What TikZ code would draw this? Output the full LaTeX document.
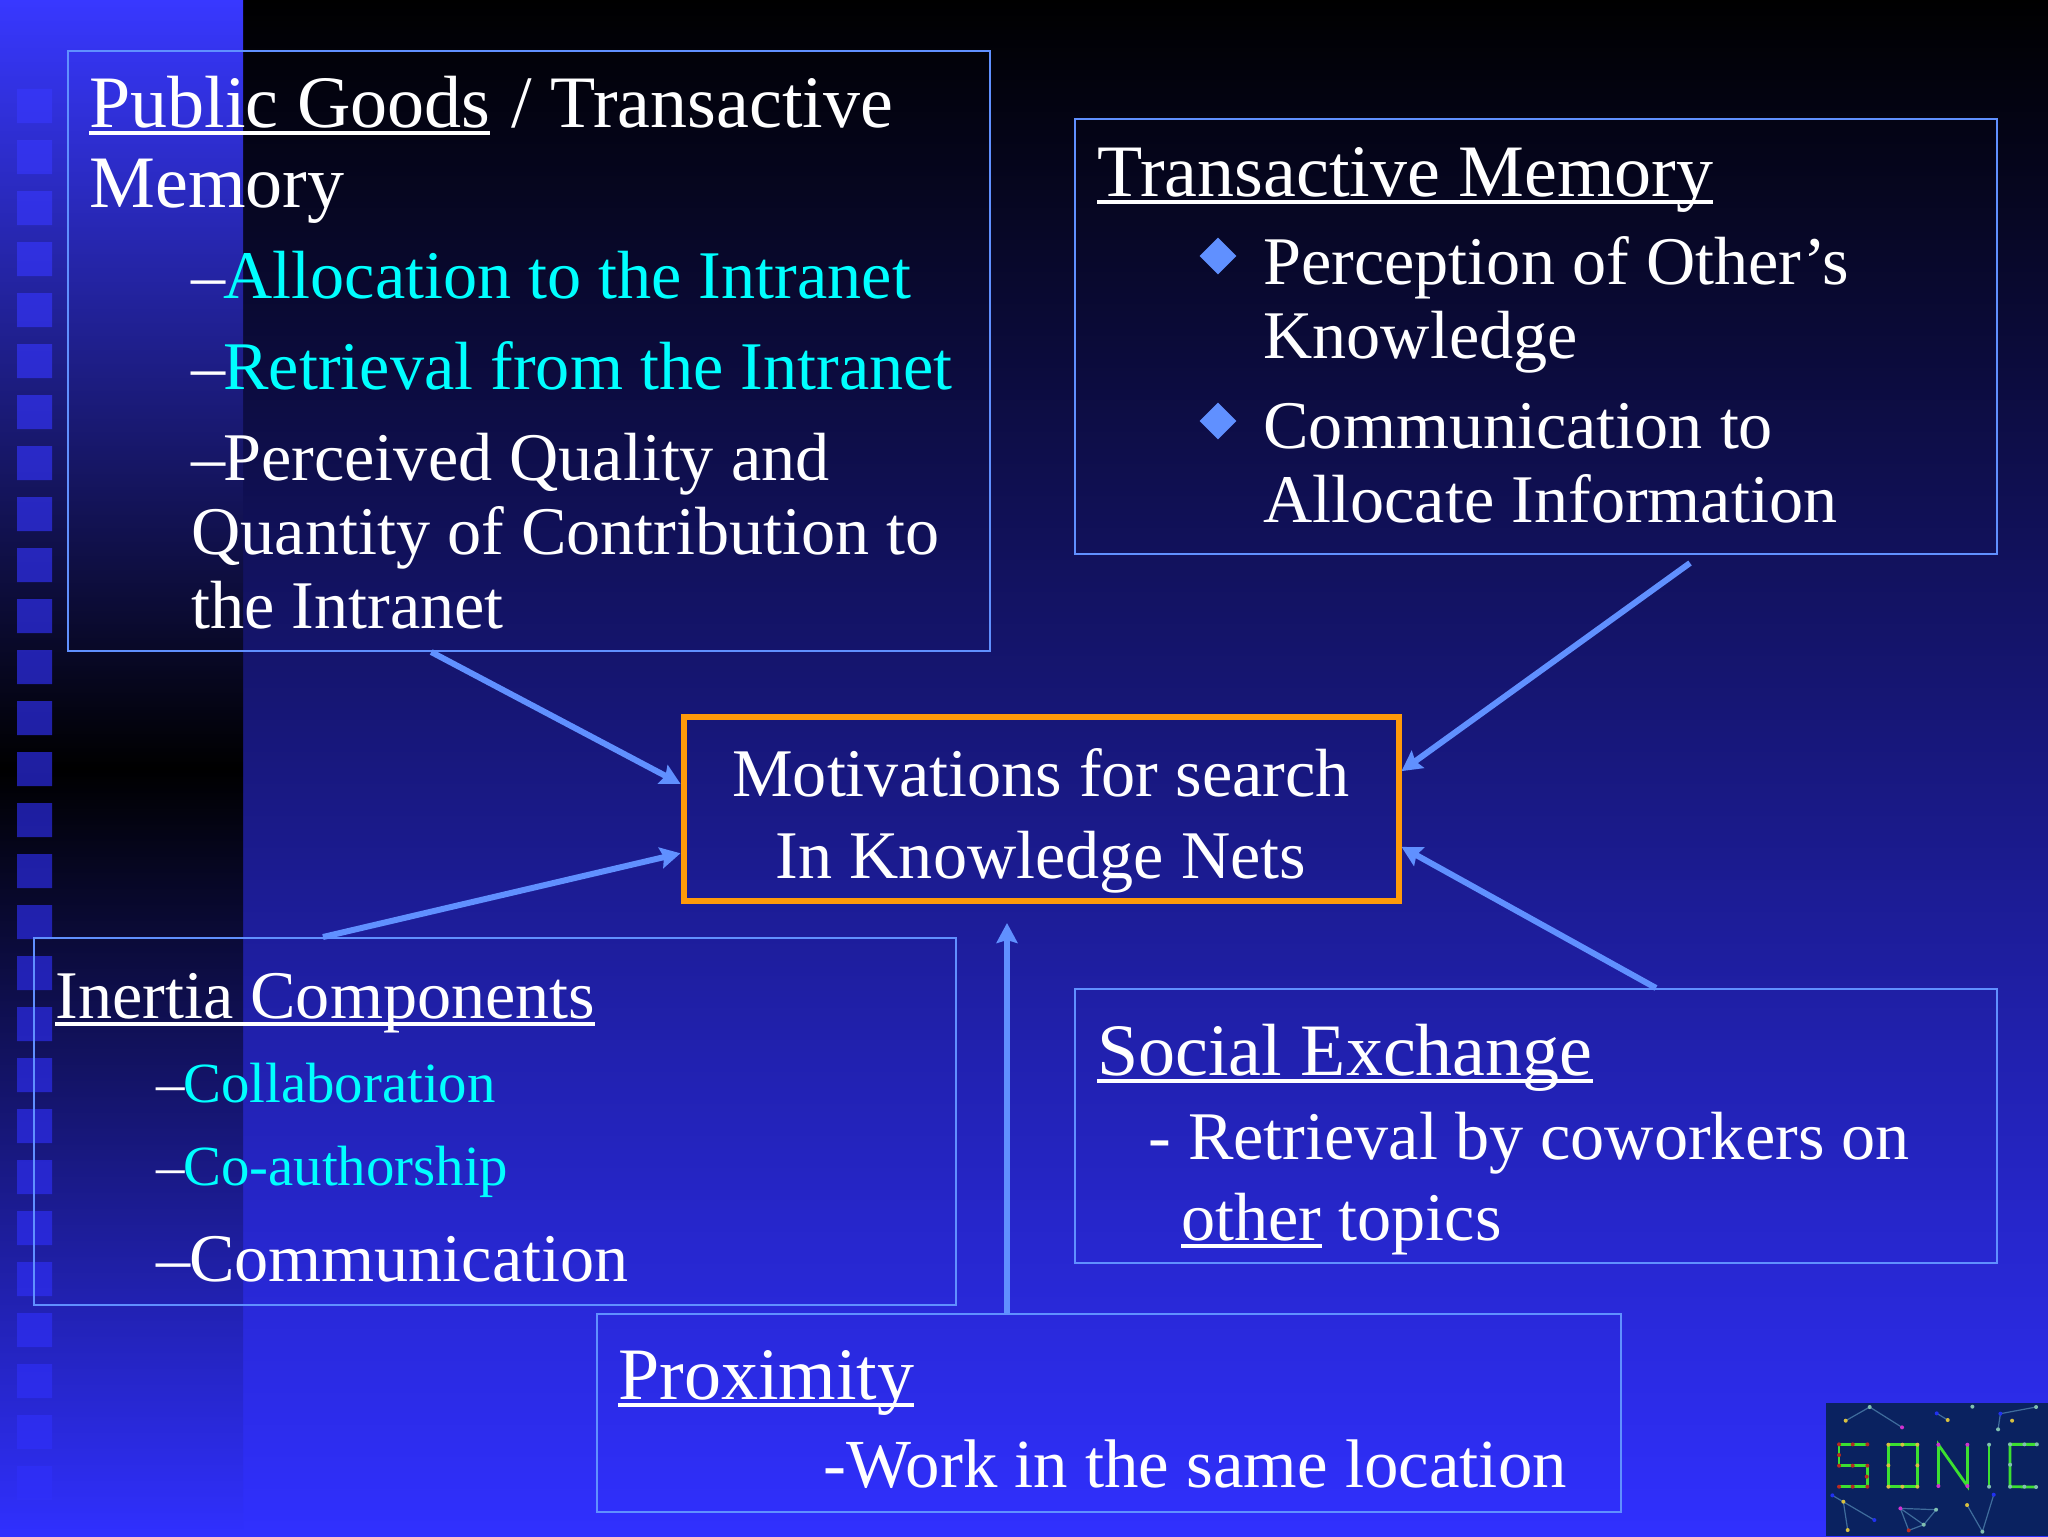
\documentclass[tikz,border=0pt]{standalone}
\usepackage{fontspec}
\setmainfont{Liberation Serif}
\usetikzlibrary{arrows.meta}
\usetikzlibrary{positioning}
\usetikzlibrary{shapes.geometric}
\definecolor{slideblue}{HTML}{3030FF}
\definecolor{stripblue}{HTML}{3838FF}
\definecolor{edgeblue}{HTML}{6090FF}
\definecolor{boxorange}{HTML}{FF9A0A}
\definecolor{subcyan}{HTML}{00FFFF}
\definecolor{logoblue}{HTML}{0A2260}
\definecolor{logogreen}{HTML}{3CE030}
\definecolor{logoline}{HTML}{3F6C9C}
\definecolor{dotred}{HTML}{B82A20}
\definecolor{dotgold}{HTML}{D8C040}
\definecolor{dotpink}{HTML}{D030D0}
\definecolor{dotteal}{HTML}{80C0B0}
\definecolor{dotblue}{HTML}{2030F0}
\newcommand{\undr}[1]{\setbox0=\hbox{#1}\rlap{\rule[-4pt]{\wd0}{2pt}}\box0\relax}
\newcommand{\subdash}{\textcolor{white}{--}\kern-1pt\relax}
\tikzset{panel/.style = {draw=edgeblue, line width=1pt, inner sep=0}}
\tikzset{hub/.style = {draw=boxorange, line width=3pt, inner sep=0, text=white, align=center,
                       font=\fontsize{34.1}{41}\selectfont}}
\tikzset{link/.style = {draw=edgeblue, line width=3pt, -{Stealth[length=10pt,width=10.5pt,inset=1.5pt]}}}
\tikzset{headtext/.style = {anchor=base west, inner sep=0, text=white, align=left,
                            font=\fontsize{37}{40}\selectfont}}
\tikzset{bodytext/.style = {anchor=base west, inner sep=0, text=white, align=left,
                            font=\fontsize{34.1}{37}\selectfont}}
\tikzset{smalltext/.style = {anchor=base west, inner sep=0, text=subcyan,
                             font=\fontsize{28.4}{32}\selectfont}}
\tikzset{bulletmark/.style = {diamond, fill=edgeblue, inner sep=0, minimum size=18.5pt}}
\tikzset{logodot/.style = {circle, fill=#1, inner sep=0, minimum size=2pt}}

\begin{document}
\begin{tikzpicture}[x=0.5pt, y=-0.5pt]
  \useasboundingbox (0, 0) rectangle (2048, 1536);
  \shade [top color=black, bottom color=slideblue] (0, 0) rectangle (2048, 1536);
  \shade [top color=stripblue, bottom color=slideblue, middle color=black] (0, 0) rectangle (243, 1536);
  \shade [top color=stripblue!95!black, bottom color=slideblue!97!black, middle color=slideblue!62!black]
    \foreach \y in {89, 140, ..., 1466} {(17, \y) rectangle ++(35, 34)};

  \node [panel, minimum width=461pt, minimum height=300pt] (pubgoods) at (529, 351) {};
  \node [panel, minimum width=461pt, minimum height=217.5pt] (transmem) at (1536, 336.5) {};
  \node [panel, minimum width=461pt, minimum height=183.5pt] (inertia) at (495, 1121.5) {};
  \node [panel, minimum width=461pt, minimum height=137pt] (social) at (1536, 1126) {};
  \node [panel, minimum width=512pt, minimum height=99pt] (proximity) at (1109, 1413) {};
  \node [hub, minimum width=357.5pt, minimum height=92pt] (motiv) at (1041, 809)
    {\rule{0pt}{35.4pt}Motivations for search\\In Knowledge Nets};

  \node [headtext] (pubgoodshead) at (89, 207) {\undr{Public Goods}\kern1.3pt{} / Transactive\\Memory};
  \node [bodytext] (alloc) at (191, 298) {\subdash\textcolor{subcyan}{Allocation to the Intranet}};
  \node [bodytext] (retrieve) at (191, 389.5) {\subdash\textcolor{subcyan}{Retrieval from the Intranet}};
  \node [bodytext] (quality) at (191, 628) {\subdash Perceived Quality and\\Quantity of Contribution to\\the Intranet};

  \node [headtext] (transmemhead) at (1097, 196) {\undr{Transactive Memory}};
  \node [bulletmark] (bulletone) at (1218, 256) {};
  \node [bodytext] (perception) at (1263, 358) {Perception of Other’s\\Knowledge};
  \node [bulletmark] (bullettwo) at (1218, 421) {};
  \node [bodytext] (communicate) at (1263, 522) {Communication to\\Allocate Information};

  \node [bodytext] (inertiahead) at (55, 1018) {\undr{Inertia Components}};
  \node [smalltext] (collab) at (156.5, 1102.5) {\subdash Collaboration};
  \node [smalltext] (coauthor) at (156.5, 1185) {\subdash Co-authorship};
  \node [bodytext] (commune) at (156.5, 1281) {\subdash Communication};

  \node [headtext] (socialhead) at (1097, 1075) {\undr{Social Exchange}};
  \node [bodytext] (retrieveco) at (1148, 1159) {- Retrieval by coworkers on};
  \node [bodytext] (othertopics) at (1181, 1240) {\undr{other} topics};

  \node [headtext] (proximityhead) at (618, 1399) {\undr{Proximity}};
  \node [bodytext, font=\fontsize{34.4}{37}\selectfont] (samelocation) at (823, 1487) {-Work in the same location};

  \coordinate (memtail) at (1690, 563);
  \coordinate (proxhead) at (1007, 923);
  \draw [link] (pubgoods.-108.9) -- (motiv.176);
  \draw [link] (inertia.133.2) -- (motiv.187);
  \draw [link] (memtail) -- (motiv.6.6);
  \draw [link] (social.49) -- (motiv.-6.9);
  \draw [link] (proximity.north -| proxhead) -- (proxhead);

  \begin{scope}[shift={(1780, 1380)}, x=0.1667pt, y=-0.1667pt]
    \fill [logoblue] (137, 68) rectangle (804, 468);
    \draw [logoline, line width=.6pt] (197, 122) -- (269, 81) -- (366, 142);
    \draw [logoline, line width=.6pt] (470, 100) -- (503, 120);
    \draw [logoline, line width=.6pt] (654, 148) -- (661, 101) -- (768, 81);
    \draw [logoline, line width=.6pt] (157, 346) -- (283, 420);
    \draw [logoline, line width=.6pt] (190, 365) -- (203, 450);
    \draw [logoline, line width=.6pt] (361, 385) -- (468, 389) -- (431, 434) -- (386, 451) -- cycle;
    \draw [logoline, line width=.6pt] (361, 385) -- (431, 434);
    \draw [logoline, line width=.6pt] (561, 375) -- (607, 455) -- (641, 344);
    \draw [logogreen, line width=1.4pt] (262, 193) -- (177, 193) -- (177, 257) -- (262, 257) -- (262, 320) -- (177, 320);
    \draw [logogreen, line width=1.4pt] (325, 194) rectangle (412, 320);
    \draw [logogreen, line width=1.4pt] (475, 318) -- (475, 194) -- (562, 318) -- (562, 194);
    \draw [logogreen, line width=1.4pt] (627, 194) -- (627, 320);
    \draw [logogreen, line width=1.4pt] (775, 193) -- (690, 193) -- (690, 320) -- (768, 321);
    \foreach \dx/\dy in {177/193, 218/193, 262/193, 177/225, 177/257, 218/257, 262/257, 260/290, 262/320, 218/320, 177/320, 386/451}
      \node [logodot=dotred] at (\dx, \dy) {};
    \foreach \dx/\dy in {325/194, 367/194, 412/194, 325/256, 412/256, 325/320, 367/320, 412/320, 197/122, 503/120, 696/122, 190/365, 203/450, 561/375}
      \node [logodot=dotgold] at (\dx, \dy) {};
    \foreach \dx/\dy in {475/194, 562/194, 475/318, 562/318, 366/142, 361/385}
      \node [logodot=dotpink] at (\dx, \dy) {};
    \foreach \dx/\dy in {627/194, 627/320, 690/193, 733/193, 770/193, 690/254, 690/320, 733/320, 768/321, 269/81, 577/80, 654/148, 768/81, 468/389, 431/434, 607/455}
      \node [logodot=dotteal] at (\dx, \dy) {};
    \foreach \dx/\dy in {470/100, 661/101, 157/346, 283/420, 641/344}
      \node [logodot=dotblue] at (\dx, \dy) {};
  \end{scope}
\end{tikzpicture}
\end{document}
